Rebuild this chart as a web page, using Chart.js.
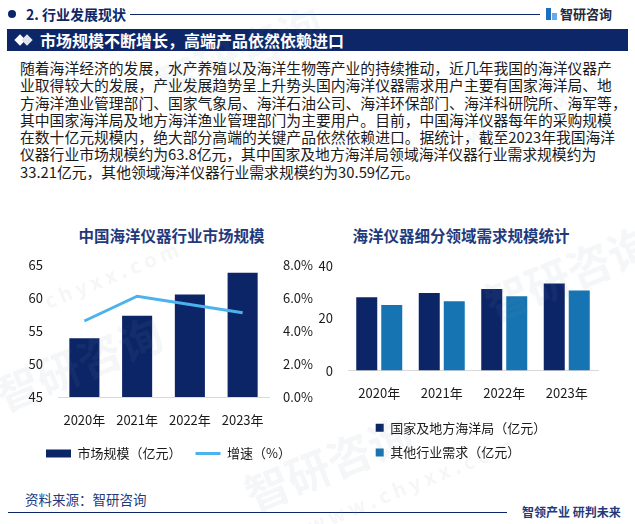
<!DOCTYPE html>
<html>
<head>
<meta charset="utf-8">
<script src="https://cdn.jsdelivr.net/npm/chart.js@4.4.1/dist/chart.umd.min.js"></script>
<style>
body{margin:0;width:635px;height:524px;background:#fff;position:relative;overflow:hidden;font-family:"Noto Sans CJK SC","Noto Sans",sans-serif;}
.abs{position:absolute;white-space:nowrap;}
.wm{position:absolute;white-space:nowrap;color:rgba(120,140,170,0.08);font-weight:bold;pointer-events:none;z-index:5;transform:rotate(-22deg);}
</style>
</head>
<body>
<!-- header -->
<div class="abs" style="left:8px;top:10px;width:8px;height:8px;border-radius:50%;background:#0d2668;"></div>
<div class="abs" style="left:26px;top:4px;font-size:14px;line-height:20px;font-weight:bold;color:#0d2668;">2. 行业发展现状</div>
<div class="abs" style="left:130px;top:14px;width:410px;height:1px;background:#0d2668;"></div>
<div class="abs" style="left:546px;top:8px;width:5px;height:12px;background:#1b6fc0;"></div>
<div class="abs" style="left:552px;top:13px;width:5px;height:7px;background:#6aa9e6;"></div>
<div class="abs" style="left:560px;top:4px;font-size:13px;line-height:20px;font-weight:bold;color:#1e2a40;">智研咨询</div>

<div class="abs" style="left:7px;top:29px;width:621px;height:22px;background:#0d2668;"></div>
<div class="abs" style="left:16px;top:36px;width:8px;height:8px;background:#fff;transform:rotate(45deg);"></div>
<div class="abs" style="left:23px;top:36px;width:8px;height:8px;background:#dfe4ee;transform:rotate(45deg);"></div>
<div class="abs" style="left:40px;top:29px;font-size:16px;line-height:22px;font-weight:bold;color:#fff;">市场规模不断增长，高端产品依然依赖进口</div>

<div class="abs" style="left:20px;top:59px;font-size:14.8px;line-height:17.3px;color:#1a1a1a;">随着海洋经济的发展，水产养殖以及海洋生物等产业的持续推动，近几年我国的海洋仪器产<br>业取得较大的发展，产业发展趋势呈上升势头国内海洋仪器需求用户主要有国家海洋局、地<br>方海洋渔业管理部门、国家气象局、海洋石油公司、海洋环保部门、海洋科研院所、海军等，<br>其中国家海洋局及地方海洋渔业管理部门为主要用户。目前，中国海洋仪器每年的采购规模<br>在数十亿元规模内，绝大部分高端的关键产品依然依赖进口。据统计，截至2023年我国海洋<br>仪器行业市场规模约为63.8亿元，其中国家及地方海洋局领域海洋仪器行业需求规模约为<br>33.21亿元，其他领域海洋仪器行业需求规模约为30.59亿元。</div>

<div class="abs" style="left:15px;top:225px;width:313px;text-align:center;font-size:15.5px;line-height:20px;font-weight:bold;color:#1f3a7c;">中国海洋仪器行业市场规模</div>
<div class="abs" style="left:311px;top:225px;width:300px;text-align:center;font-size:15.5px;line-height:20px;font-weight:bold;color:#1f3a7c;">海洋仪器细分领域需求规模统计</div>

<div class="abs" style="left:15px;top:242px;"><canvas id="left" width="305" height="228"></canvas></div>
<div class="abs" style="left:318px;top:243px;"><canvas id="right" width="290" height="226"></canvas></div>

<!-- footer -->
<div class="abs" style="left:25px;top:489px;font-size:13.5px;line-height:20px;color:#1f3a7c;">资料来源：智研咨询</div>
<div class="abs" style="left:8px;top:512px;width:499px;height:1px;background:#0d2668;"></div>
<div class="abs" style="left:522px;top:502px;font-size:12px;line-height:20px;font-weight:bold;color:#1f3a7c;">智领产业 研判未来</div>

<!-- watermark -->
<div class="wm" style="left:150px;top:20px;font-size:44px;">智研咨询</div>
<div class="wm" style="left:-10px;top:330px;font-size:44px;">智研咨询</div>
<div class="wm" style="left:480px;top:240px;font-size:44px;">智研咨询</div>
<div class="wm" style="left:240px;top:430px;font-size:44px;">智研咨询</div>
<div class="wm" style="left:40px;top:260px;font-size:20px;">c h y x x . c o m</div>
<div class="wm" style="left:420px;top:110px;font-size:20px;">w w w . c h y x x</div>
<div class="wm" style="left:300px;top:470px;font-size:20px;">w w w . c h y x x . c o m</div>

<script>
var years = ['2020年', '2021年', '2022年', '2023年'];
var marketSize = [53.9, 57.3, 60.5, 63.8];      // 亿元
var growthRate = [4.6, 6.1, 5.6, 5.1];         // %
var oceanBureau = [28.0, 29.6, 31.1, 33.21];   // 亿元
var otherDemand = [25.0, 26.5, 28.4, 30.59];   // 亿元

var navy = '#0c2567';
var tickFont = {family: '"Noto Sans CJK SC", "Noto Sans", sans-serif', size: 13};
var textColor = '#1a1a1a';

// move the legend of the right chart under the bars
var legendShift = {
    id: 'legendShift',
    afterLayout: function (chart, args, opts) {
        chart.legend.left += opts.x;
    }
};

function fixWidth(w) {
    return function (scale) { scale.width = w; };
}
function fixHeight(h) {
    return function (scale) { scale.height = h; };
}

new Chart(document.getElementById('left').getContext('2d'), {
    type: 'bar',
    data: {
        labels: years,
        datasets: [{
                label: '市场规模（亿元）',
                data: marketSize,
                backgroundColor: navy,
                borderWidth: 0,
                pointStyle: 'rect',
                categoryPercentage: 1,
                barPercentage: 0.57,
                yAxisID: 'y',
                order: 2
            },
            {
                type: 'line',
                label: '增速（%）',
                data: growthRate,
                borderColor: '#4cb2ee',
                backgroundColor: '#4cb2ee',
                borderWidth: 3,
                pointRadius: 0,
                pointStyle: 'line',
                tension: 0,
                yAxisID: 'y1',
                order: 1
            }
        ]
    },
    options: {
        responsive: false,
        animation: false,
        layout: {padding: {left: 8, right: 6, top: 0, bottom: 0}},
        plugins: {
            tooltip: {enabled: false},
            legend: {
                position: 'bottom',
                align: 'center',
                labels: {
                    usePointStyle: true,
                    pointStyleWidth: 25,
                    boxHeight: 8,
                    padding: 14,
                    font: tickFont,
                    color: textColor,
                    sort: function (a, b) { return a.datasetIndex - b.datasetIndex; }
                }
            }
        },
        scales: {
            x: {
                grid: {display: false, drawTicks: false},
                border: {color: '#d9d9d9'},
                ticks: {padding: 15, font: tickFont, color: textColor, maxRotation: 0, autoSkip: false},
                afterFit: fixHeight(36)
            },
            y: {
                min: 45, max: 65,
                grid: {display: false, drawTicks: false},
                border: {display: false},
                ticks: {stepSize: 5, padding: 15, font: tickFont, color: textColor},
                afterFit: fixWidth(35)
            },
            y1: {
                position: 'right',
                min: 0, max: 8,
                grid: {display: false, drawTicks: false},
                border: {display: false},
                ticks: {
                    stepSize: 2, padding: 14, font: tickFont, color: textColor,
                    callback: function (v) { return v.toFixed(1) + '%'; }
                },
                afterFit: fixWidth(45)
            }
        }
    }
});

new Chart(document.getElementById('right').getContext('2d'), {
    type: 'bar',
    data: {
        labels: years,
        datasets: [{
                label: '国家及地方海洋局（亿元）',
                data: oceanBureau,
                backgroundColor: navy,
                borderWidth: 0,
                categoryPercentage: 0.8,
                barPercentage: 0.84
            },
            {
                label: '其他行业需求（亿元）',
                data: otherDemand,
                backgroundColor: '#1574b1',
                borderWidth: 0,
                categoryPercentage: 0.8,
                barPercentage: 0.84
            }
        ]
    },
    plugins: [legendShift],
    options: {
        responsive: false,
        animation: false,
        layout: {padding: {left: 0, right: 10, top: 0, bottom: 0}},
        plugins: {
            tooltip: {enabled: false},
            legendShift: {x: 46},
            legend: {
                position: 'bottom',
                align: 'start',
                labels: {
                    boxWidth: 8,
                    boxHeight: 8,
                    padding: 11.7,
                    font: tickFont,
                    color: textColor
                }
            }
        },
        scales: {
            x: {
                grid: {display: false, drawTicks: false},
                border: {color: '#d9d9d9'},
                ticks: {padding: 15, font: tickFont, color: textColor, maxRotation: 0, autoSkip: false},
                afterFit: fixHeight(39)
            },
            y: {
                min: 0, max: 40,
                grid: {display: false, drawTicks: false},
                border: {display: false},
                ticks: {stepSize: 20, padding: 15, font: tickFont, color: textColor},
                afterFit: fixWidth(30)
            }
        }
    }
});
</script>
</body>
</html>
